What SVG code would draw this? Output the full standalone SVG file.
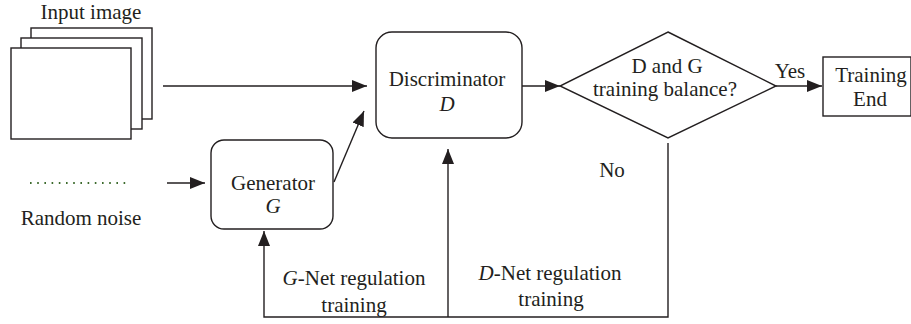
<svg xmlns="http://www.w3.org/2000/svg" width="911" height="324" viewBox="0 0 911 324" font-family="Liberation Serif, DejaVu Serif, serif">
<style>
.s{fill:#fff;stroke:#231f20;stroke-width:1.4}
.c{fill:none;stroke:#231f20;stroke-width:1.4}
text{font-size:21px;fill:#231f20;text-anchor:middle}
.i{font-style:italic}
</style>
<defs>
<marker id="ah" markerUnits="userSpaceOnUse" markerWidth="16" markerHeight="12" refX="15" refY="6" orient="auto">
<path d="M0,0 L15,6 L0,12 z" fill="#231f20"/>
</marker>
</defs>
<g id="input-image">
<rect class="s" x="31" y="28" width="121" height="91"/>
<rect class="s" x="21" y="38" width="121" height="91"/>
<rect class="s" x="11" y="48" width="120" height="91"/>
<text x="91" y="19" font-family="Liberation Serif">Input image</text>
</g>
<g id="random-noise">
<line x1="30" y1="183" x2="130" y2="183" stroke="#3d6b2d" stroke-width="2" stroke-dasharray="1.6 5.6"/>
<text x="81" y="225" font-family="Liberation Serif">Random noise</text>
</g>
<g id="generator">
<rect class="s" x="211" y="140" width="122" height="89" rx="13"/>
<text x="273" y="190" font-family="Liberation Serif">Generator</text>
<text class="i" x="273" y="213" font-family="Liberation Serif">G</text>
</g>
<g id="discriminator">
<rect class="s" x="376" y="32" width="146" height="106" rx="16"/>
<text x="447" y="86" font-family="Liberation Serif">Discriminator</text>
<text class="i" x="447" y="111" font-family="Liberation Serif">D</text>
</g>
<g id="decision">
<polygon class="s" points="668,32 776,86 668,138 560,86"/>
<text x="667" y="73" font-family="Liberation Serif">D and G</text>
<text x="665" y="96" font-family="Liberation Serif">training balance?</text>
</g>
<g id="training-end">
<rect class="s" x="823" y="57" width="88" height="59"/>
<text x="871" y="82" font-family="Liberation Serif">Training</text>
<text x="870" y="106" font-family="Liberation Serif">End</text>
</g>
<g id="connectors">
<line class="c" x1="163" y1="86" x2="367" y2="86" marker-end="url(#ah)"/>
<line class="c" x1="167" y1="183" x2="205" y2="183" marker-end="url(#ah)"/>
<line class="c" x1="334" y1="182" x2="364" y2="111" marker-end="url(#ah)"/>
<line class="c" x1="522" y1="86" x2="560" y2="86" marker-end="url(#ah)"/>
<line class="c" x1="776" y1="86" x2="822" y2="86" marker-end="url(#ah)"/>
<polyline class="c" points="668,143 668,317 264,317 264,231" marker-end="url(#ah)"/>
<line class="c" x1="448" y1="317" x2="448" y2="149" marker-end="url(#ah)"/>
<text x="790" y="78" font-family="Liberation Serif">Yes</text>
<text x="612" y="177" font-family="Liberation Serif">No</text>
<text x="354" y="285" font-family="Liberation Serif"><tspan class="i">G</tspan>-Net regulation</text>
<text x="354" y="312" font-family="Liberation Serif">training</text>
<text x="550" y="280" font-family="Liberation Serif"><tspan class="i">D</tspan>-Net regulation</text>
<text x="551" y="306" font-family="Liberation Serif">training</text>
</g>
</svg>
